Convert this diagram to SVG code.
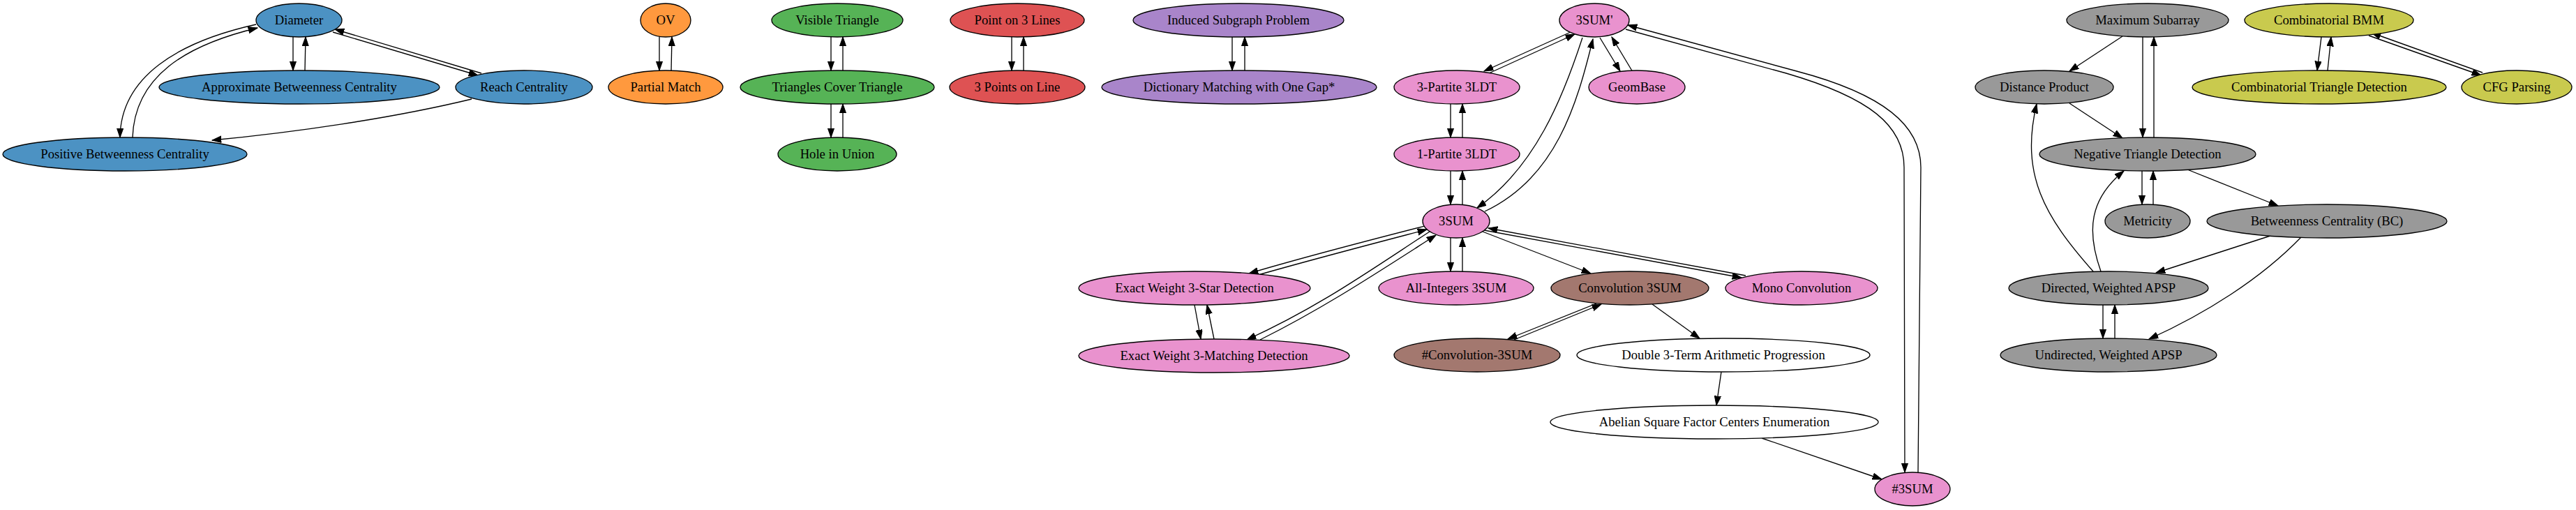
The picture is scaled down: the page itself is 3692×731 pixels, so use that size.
<svg xmlns="http://www.w3.org/2000/svg" width="3692" height="731" viewBox="0 0 3692 731">
<style>
.n ellipse{stroke:#000;stroke-width:1.33}
.n text{font-family:"Liberation Serif","Times New Roman",serif;font-size:18.67px;text-anchor:middle;fill:#000}
.blue ellipse{fill:#4c92c3}.orange ellipse{fill:#ff993e}.green ellipse{fill:#56b356}.red ellipse{fill:#de5253}
.purple ellipse{fill:#a985ca}.pink ellipse{fill:#e992ce}.brown ellipse{fill:#a3786f}.white ellipse{fill:#fff}
.gray ellipse{fill:#999999}.olive ellipse{fill:#c9ca4e}
#edges path{fill:none;stroke:#000;stroke-width:1.33;marker-end:url(#arr)}
</style>
<defs>
<marker id="arr" markerUnits="userSpaceOnUse" markerWidth="14" markerHeight="10" refX="13.3" refY="4.67" orient="auto"><path d="M0,0 L13.3,4.67 L0,9.33 z" fill="#000" stroke="#000" stroke-width="1"/></marker>
</defs>
<rect width="3692" height="731" fill="#fff"/>
<g id="edges">
<path d="M420,53 L420,101"/>
<path d="M437,101 L438,53"/>
<path d="M477,46 L685,108"/>
<path d="M690,105 L480,42"/>
<path d="M367,35 C255,60 173,110 172,197"/>
<path d="M190,197 C193,110 265,65 369,40"/>
<path d="M676,142 C560,170 420,190 304,201"/>
<path d="M945,53 L945,101"/>
<path d="M962,101 L963,53"/>
<path d="M1191,53 L1191,101"/>
<path d="M1208,101 L1208,53"/>
<path d="M1191,149 L1191,197"/>
<path d="M1208,197 L1208,149"/>
<path d="M1450,53 L1450,101"/>
<path d="M1467,101 L1467,53"/>
<path d="M1766,53 L1766,101"/>
<path d="M1784,101 L1784,53"/>
<path d="M2251,46 L2127,102"/>
<path d="M2134,105 L2257,49"/>
<path d="M2079,149 L2079,197"/>
<path d="M2096,197 L2096,149"/>
<path d="M2079,245 L2079,293"/>
<path d="M2096,293 L2096,245"/>
<path d="M2293,54 L2322,102"/>
<path d="M2340,103 L2310,53"/>
<path d="M2268,54 C2240,140 2200,240 2117,298"/>
<path d="M2128,303 C2230,255 2260,150 2283,56"/>
<path d="M2330,42 L2560,105 C2680,140 2729,180 2729,240 L2730,677"/>
<path d="M2749,677 L2753,240 C2753,180 2700,135 2575,102 L2333,36"/>
<path d="M2042,324 C1960,345 1870,368 1790,392"/>
<path d="M1800,395 C1880,372 1965,350 2045,329"/>
<path d="M2049,332 C1960,390 1890,440 1787,487"/>
<path d="M1806,487 C1900,440 1975,390 2058,337"/>
<path d="M1712,437 L1721,486"/>
<path d="M1740,486 L1730,437"/>
<path d="M2079,341 L2079,389"/>
<path d="M2096,389 L2096,341"/>
<path d="M2125,332 L2280,392"/>
<path d="M2127,330 L2496,398"/>
<path d="M2502,395 L2133,327"/>
<path d="M2288,435 L2161,486"/>
<path d="M2170,487 L2295,436"/>
<path d="M2368,436 L2436,485"/>
<path d="M2467,533 L2460,581"/>
<path d="M2525,628 L2697,687"/>
<path d="M3042,52 L2966,102"/>
<path d="M3071,53 L3071,197"/>
<path d="M3087,197 L3087,53"/>
<path d="M2966,148 L3042,198"/>
<path d="M3070,245 L3070,293"/>
<path d="M3086,293 L3086,245"/>
<path d="M3135,243 L3265,295"/>
<path d="M3254,338 L3090,391"/>
<path d="M3298,340 C3240,400 3160,450 3080,486"/>
<path d="M3014,437 L3014,485"/>
<path d="M3031,485 L3031,437"/>
<path d="M3011,389 C2990,330 2995,285 3044,245"/>
<path d="M3000,389 C2930,310 2895,250 2919,149"/>
<path d="M3327,53 L3321,101"/>
<path d="M3336,101 L3341,53"/>
<path d="M3395,51 L3556,108"/>
<path d="M3558,104 L3399,47"/>
</g>
<g id="n_diameter" class="n blue"><ellipse cx="428.5" cy="29" rx="61.5" ry="24"/><text x="428.5" y="35">Diameter</text></g>
<g id="n_abc" class="n blue"><ellipse cx="429" cy="125" rx="201" ry="24"/><text x="429" y="131">Approximate Betweenness Centrality</text></g>
<g id="n_reach" class="n blue"><ellipse cx="751" cy="125" rx="98" ry="24"/><text x="751" y="131">Reach Centrality</text></g>
<g id="n_pbc" class="n blue"><ellipse cx="179" cy="221" rx="175" ry="24"/><text x="179" y="227">Positive Betweenness Centrality</text></g>
<g id="n_ov" class="n orange"><ellipse cx="954" cy="29" rx="36" ry="24"/><text x="954" y="35">OV</text></g>
<g id="n_pm" class="n orange"><ellipse cx="954" cy="125" rx="82" ry="24"/><text x="954" y="131">Partial Match</text></g>
<g id="n_vt" class="n green"><ellipse cx="1200" cy="29" rx="94" ry="24"/><text x="1200" y="35">Visible Triangle</text></g>
<g id="n_tct" class="n green"><ellipse cx="1200" cy="125" rx="139" ry="24"/><text x="1200" y="131">Triangles Cover Triangle</text></g>
<g id="n_hu" class="n green"><ellipse cx="1200" cy="221" rx="85" ry="24"/><text x="1200" y="227">Hole in Union</text></g>
<g id="n_p3l" class="n red"><ellipse cx="1458" cy="29" rx="96" ry="24"/><text x="1458" y="35">Point on 3 Lines</text></g>
<g id="n_3pl" class="n red"><ellipse cx="1458" cy="125" rx="97" ry="24"/><text x="1458" y="131">3 Points on Line</text></g>
<g id="n_isp" class="n purple"><ellipse cx="1775" cy="29" rx="151" ry="24"/><text x="1775" y="35">Induced Subgraph Problem</text></g>
<g id="n_dm" class="n purple"><ellipse cx="1776" cy="125" rx="197" ry="24"/><text x="1776" y="131">Dictionary Matching with One Gap*</text></g>
<g id="n_3sump" class="n pink"><ellipse cx="2285" cy="29" rx="50" ry="24"/><text x="2285" y="35">3SUM'</text></g>
<g id="n_3p3ldt" class="n pink"><ellipse cx="2088" cy="125" rx="90" ry="24"/><text x="2088" y="131">3-Partite 3LDT</text></g>
<g id="n_geom" class="n pink"><ellipse cx="2346" cy="125" rx="69" ry="24"/><text x="2346" y="131">GeomBase</text></g>
<g id="n_1p3ldt" class="n pink"><ellipse cx="2088" cy="221" rx="90" ry="24"/><text x="2088" y="227">1-Partite 3LDT</text></g>
<g id="n_3sum" class="n pink"><ellipse cx="2087" cy="317" rx="48" ry="24"/><text x="2087" y="323">3SUM</text></g>
<g id="n_ew3s" class="n pink"><ellipse cx="1712" cy="413" rx="166" ry="24"/><text x="1712" y="419">Exact Weight 3-Star Detection</text></g>
<g id="n_ai3sum" class="n pink"><ellipse cx="2087" cy="413" rx="111" ry="24"/><text x="2087" y="419">All-Integers 3SUM</text></g>
<g id="n_mono" class="n pink"><ellipse cx="2582" cy="413" rx="109" ry="24"/><text x="2582" y="419">Mono Convolution</text></g>
<g id="n_ew3m" class="n pink"><ellipse cx="1740" cy="510" rx="194" ry="24"/><text x="1740" y="516">Exact Weight 3-Matching Detection</text></g>
<g id="n_h3sum" class="n pink"><ellipse cx="2741" cy="701" rx="54" ry="24"/><text x="2741" y="707">#3SUM</text></g>
<g id="n_conv" class="n brown"><ellipse cx="2336" cy="413" rx="113" ry="24"/><text x="2336" y="419">Convolution 3SUM</text></g>
<g id="n_hconv" class="n brown"><ellipse cx="2117" cy="509" rx="119" ry="24"/><text x="2117" y="515">#Convolution-3SUM</text></g>
<g id="n_d3ap" class="n white"><ellipse cx="2470" cy="509" rx="210" ry="24"/><text x="2470" y="515">Double 3-Term Arithmetic Progression</text></g>
<g id="n_asfce" class="n white"><ellipse cx="2457" cy="605" rx="235" ry="24"/><text x="2457" y="611">Abelian Square Factor Centers Enumeration</text></g>
<g id="n_maxsub" class="n gray"><ellipse cx="3078" cy="29" rx="116" ry="24"/><text x="3078" y="35">Maximum Subarray</text></g>
<g id="n_distprod" class="n gray"><ellipse cx="2930" cy="125" rx="99" ry="24"/><text x="2930" y="131">Distance Product</text></g>
<g id="n_negtri" class="n gray"><ellipse cx="3078" cy="221" rx="155" ry="24"/><text x="3078" y="227">Negative Triangle Detection</text></g>
<g id="n_metricity" class="n gray"><ellipse cx="3078" cy="317" rx="61" ry="24"/><text x="3078" y="323">Metricity</text></g>
<g id="n_bc" class="n gray"><ellipse cx="3335" cy="317" rx="172" ry="24"/><text x="3335" y="323">Betweenness Centrality (BC)</text></g>
<g id="n_dapsp" class="n gray"><ellipse cx="3022" cy="413" rx="143" ry="24"/><text x="3022" y="419">Directed, Weighted APSP</text></g>
<g id="n_uapsp" class="n gray"><ellipse cx="3022" cy="509" rx="155" ry="24"/><text x="3022" y="515">Undirected, Weighted APSP</text></g>
<g id="n_cbmm" class="n olive"><ellipse cx="3338" cy="29" rx="121" ry="24"/><text x="3338" y="35">Combinatorial BMM</text></g>
<g id="n_ctd" class="n olive"><ellipse cx="3324" cy="125" rx="182" ry="24"/><text x="3324" y="131">Combinatorial Triangle Detection</text></g>
<g id="n_cfg" class="n olive"><ellipse cx="3607" cy="125" rx="79" ry="24"/><text x="3607" y="131">CFG Parsing</text></g>
</svg>
